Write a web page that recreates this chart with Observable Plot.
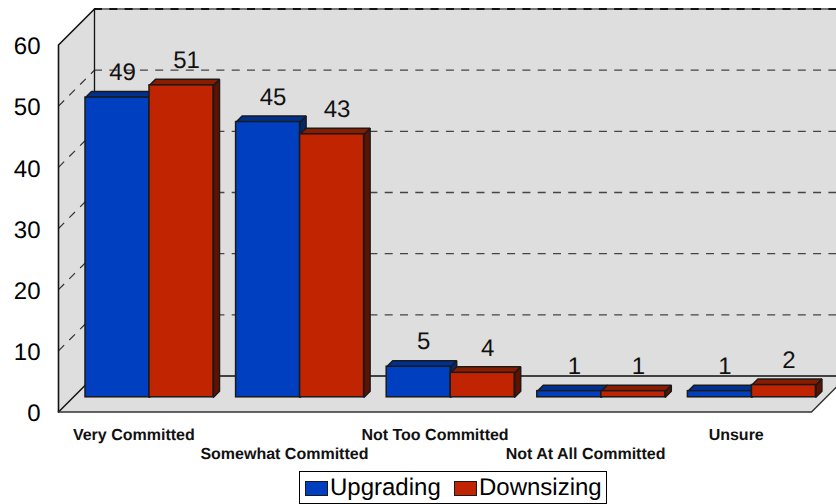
<!DOCTYPE html>
<html><head><meta charset="utf-8">
<script src="https://cdn.jsdelivr.net/npm/d3@7"></script>
<script src="https://cdn.jsdelivr.net/npm/@observablehq/plot@0.6"></script>
<style>
html,body{margin:0;padding:0;background:#fff;overflow:hidden}
svg text{text-rendering:geometricPrecision}
#legend{position:absolute;left:299px;top:471px;width:306px;height:31px;border:1px solid #000;font:24px "Liberation Sans",Arial,sans-serif;color:#000;background:#fff;text-rendering:geometricPrecision}
#legend span{position:absolute;white-space:nowrap;line-height:31px;top:0}
#legend i{position:absolute;top:9px;height:13px;width:21px;border:1px solid #1a1a1a;box-sizing:content-box}
</style></head><body>
<div id="chart"></div>
<div id="legend"></div>
<script>
const categories = ["Very Committed","Somewhat Committed","Not Too Committed","Not At All Committed","Unsure"];
const upgrading = [49,45,5,1,1];
const downsizing = [51,43,4,1,2];
const yTicks = [0,10,20,30,40,50,60];
const colors = {Upgrading:{front:"#0040c0",top:"#003090",side:"#002a70"},Downsizing:{front:"#c02400",top:"#8a1c00",side:"#601200"}};

const W=836,H=470,ML=58,MR=25,MT=44.5,MB=58.5;
const ux=(W-ML-MR)/5, uy=(H-MT-MB)/60;       // px per data unit
const wallX=36/ux, wallY=36/uy;              // depth of the box in data units
const px=(x,v,z)=>[x+z*wallX, v+z*wallY];
const zF=14.7/36, zB=20.7/36, inset=12.3/ux, bw=64/ux;

const series=[["Upgrading",upgrading,0],["Downsizing",downsizing,1]];
const bars=series.flatMap(([name,vals,s])=>vals.map((v,i)=>{
  const x0=i+inset+s*bw, x1=x0+bw;
  return {name,v,i,x0,x1};
}));
function poly(rows,fn){return rows.flatMap((r,k)=>fn(r).map(([x,y])=>({x,y,k})));}
const topFace=b=>{const a=px(b.x0,b.v,zF),c=px(b.x1,b.v,zF),d=px(b.x1,b.v,zB),e=px(b.x0,b.v,zB);return [a,c,d,e,a];};
const sideFace=b=>{const a=px(b.x1,0,zF),c=px(b.x1,b.v,zF),d=px(b.x1,b.v,zB),e=px(b.x1,0,zB);return [a,c,d,e,a];};
const frontFace=b=>{const [x1,y1]=px(b.x0,0,zF),[x2,y2]=px(b.x1,b.v,zF);return {x1,y1,x2,y2};};
const line=(pts,o)=>Plot.line(pts.map(([x,y])=>({x,y})),{x:"x",y:"y",...o});

const barMarks=series.flatMap(([name])=>{
  const rows=bars.filter(b=>b.name===name),c=colors[name],st={stroke:"#1a1a1a",strokeWidth:1.5,strokeLinejoin:"miter"};
  return [
    Plot.line(poly(rows,sideFace),{x:"x",y:"y",z:"k",fill:c.side,...st}),
    Plot.line(poly(rows,topFace),{x:"x",y:"y",z:"k",fill:c.top,...st}),
    Plot.rect(rows.map(frontFace),{x1:"x1",x2:"x2",y1:"y1",y2:"y2",fill:c.front,...st})
  ];
});

const gridTicks=yTicks.filter(t=>t>0&&t<60);
const plot=Plot.plot({
  width:W,height:H,marginLeft:ML,marginRight:MR,marginTop:MT,marginBottom:MB,
  style:{fontFamily:'"Liberation Sans",Arial,sans-serif',background:"#fff",color:"#000"},
  x:{domain:[0,5],axis:null},
  y:{domain:[0,60],axis:null},
  marks:[
    line([[0,0],[0,60],[wallX,60+wallY],[5+wallX,60+wallY],[5+wallX,wallY],[5,0],[0,0]],{fill:"#dedede",stroke:"none"}),
    Plot.link(gridTicks,{x1:()=>0,y1:d=>d,x2:()=>wallX,y2:d=>d+wallY,stroke:"#333",strokeWidth:1.2,strokeDasharray:"8,7.3"}),
    Plot.ruleY(gridTicks,{y:d=>d+wallY,x1:()=>wallX,x2:()=>5+wallX,stroke:"#444",strokeWidth:1.3,strokeDasharray:"8,7.3"}),
    Plot.ruleY([60],{y:d=>d+wallY,x1:()=>wallX,x2:()=>5+wallX,stroke:"#777",strokeWidth:1.8}),
    Plot.ruleY([60],{y:d=>d+wallY,x1:()=>wallX,x2:()=>5+wallX,stroke:"#111",strokeWidth:1.8,strokeDasharray:"8,7.3"}),
    line([[0,0],[0,60],[wallX,60+wallY]],{stroke:"#111",strokeWidth:1.6}),
    line([[wallX,60+wallY],[wallX,wallY]],{stroke:"#111",strokeWidth:1.3}),
    line([[0,0],[wallX,wallY],[5+wallX,wallY]],{stroke:"#111",strokeWidth:1.5}),
    line([[0,0],[5,0],[5+wallX,wallY]],{stroke:"#333",strokeWidth:1.5}),
    ...barMarks,
    Plot.axisY({ticks:yTicks,tickSize:0,tickPadding:18,fontSize:24,anchor:"left",label:null,tickFormat:d=>String(d),dy:1.5}),
    Plot.text(bars,{x:d=>d.x0+bw/2+zF*wallX,y:d=>d.v+zF*wallY,text:d=>String(d.v),dx:5,dy:-25,fontSize:24,fill:"#111",lineAnchor:"middle"}),
    Plot.text(categories.filter((_,i)=>i%2===0),{x:d=>categories.indexOf(d)+0.5,y:()=>0,text:d=>d,dy:23,fontSize:16,fontWeight:"bold",fill:"#111",lineAnchor:"middle"}),
    Plot.text(categories.filter((_,i)=>i%2===1),{x:d=>categories.indexOf(d)+0.5,y:()=>0,text:d=>d,dy:42,fontSize:16,fontWeight:"bold",fill:"#111",lineAnchor:"middle"})
  ]
});
document.getElementById("chart").appendChild(plot);
plot.style.display="block";
const lg=document.getElementById("legend");
[["Upgrading",5,30],["Downsizing",154,179]].forEach(([n,sx,tx])=>{
  const i=document.createElement("i");i.style.left=sx+"px";i.style.background=colors[n].front;lg.appendChild(i);
  const s=document.createElement("span");s.style.left=tx+"px";s.textContent=n;lg.appendChild(s);
});
</script>
</body></html>
